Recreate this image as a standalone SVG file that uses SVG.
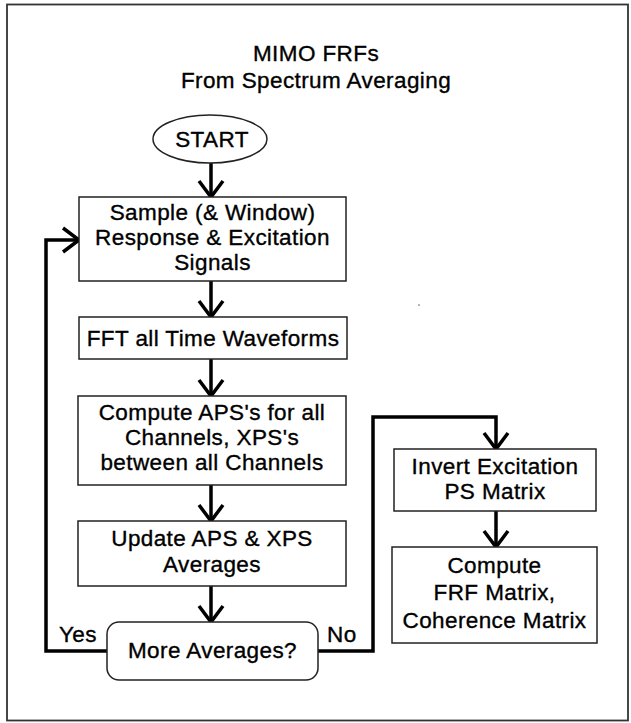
<svg xmlns="http://www.w3.org/2000/svg" width="631" height="723" viewBox="0 0 631 723">
<style>
.t{font-family:"Liberation Sans",Arial,sans-serif;font-size:22.5px;fill:#000;stroke:#000;stroke-width:0.35;letter-spacing:0.4px;text-anchor:middle}
.l{text-anchor:start}
.box{fill:#fff;stroke:#222;stroke-width:1.5}
.c{fill:none;stroke:#000;stroke-width:3.5;stroke-linejoin:miter}
</style>
<defs>
<marker id="arr" markerUnits="userSpaceOnUse" markerWidth="40" markerHeight="40" refX="0" refY="0" viewBox="-20 -20 40 40" orient="auto" overflow="visible">
<path d="M-16,-12 L0,0 L-16,12" fill="none" stroke="#000" stroke-width="3.5"/>
</marker>
</defs>
<rect width="631" height="723" fill="#fff"/>
<rect x="7" y="4.5" width="621" height="716" fill="none" stroke="#333" stroke-width="1.8"/>
<circle cx="419" cy="305" r="0.8" fill="#555"/>
<g id="title">
<text class="t" x="316" y="61">MIMO FRFs</text>
<text class="t" x="316" y="88">From Spectrum Averaging</text>
</g>
<g id="connectors">
<path class="c" d="M211,163 V197" marker-end="url(#arr)"/>
<path class="c" d="M211,281 V317" marker-end="url(#arr)"/>
<path class="c" d="M211,359 V396" marker-end="url(#arr)"/>
<path class="c" d="M211,485 V521" marker-end="url(#arr)"/>
<path class="c" d="M211,586 V622" marker-end="url(#arr)"/>
<path class="c" d="M107,651 H46 V240 H79" marker-end="url(#arr)"/>
<path class="c" d="M318,651 H373 V417 H496 V449" marker-end="url(#arr)"/>
<path class="c" d="M496,511 V547" marker-end="url(#arr)"/>
<text class="t l" x="59" y="642">Yes</text>
<text class="t l" x="327" y="642">No</text>
</g>
<g id="start">
<ellipse class="box" cx="210" cy="139" rx="57" ry="24"/>
<text class="t" x="212" y="147">START</text>
</g>
<g id="sample">
<rect class="box" x="79" y="197" width="267" height="84"/>
<text class="t" x="212.5" y="220">Sample (&amp; Window)</text>
<text class="t" x="212.5" y="245">Response &amp; Excitation</text>
<text class="t" x="212.5" y="270">Signals</text>
</g>
<g id="fft">
<rect class="box" x="79" y="317" width="268" height="42"/>
<text class="t" x="213" y="346">FFT all Time Waveforms</text>
</g>
<g id="aps">
<rect class="box" x="78" y="396" width="268" height="89"/>
<text class="t" x="212" y="420">Compute APS's for all</text>
<text class="t" x="212" y="445">Channels, XPS's</text>
<text class="t" x="212" y="470">between all Channels</text>
</g>
<g id="update">
<rect class="box" x="78" y="521" width="268" height="65"/>
<text class="t" x="212" y="546">Update APS &amp; XPS</text>
<text class="t" x="212" y="572">Averages</text>
</g>
<g id="decision">
<rect class="box" x="107" y="622" width="211" height="58" rx="12" ry="12"/>
<text class="t" x="212.5" y="658">More Averages?</text>
</g>
<g id="invert">
<rect class="box" x="394" y="449" width="202" height="62"/>
<text class="t" x="495" y="474">Invert Excitation</text>
<text class="t" x="495" y="499">PS Matrix</text>
</g>
<g id="frf">
<rect class="box" x="392" y="547" width="205" height="96"/>
<text class="t" x="494.5" y="573">Compute</text>
<text class="t" x="494.5" y="600">FRF Matrix,</text>
<text class="t" x="494.5" y="628">Coherence Matrix</text>
</g>
</svg>
